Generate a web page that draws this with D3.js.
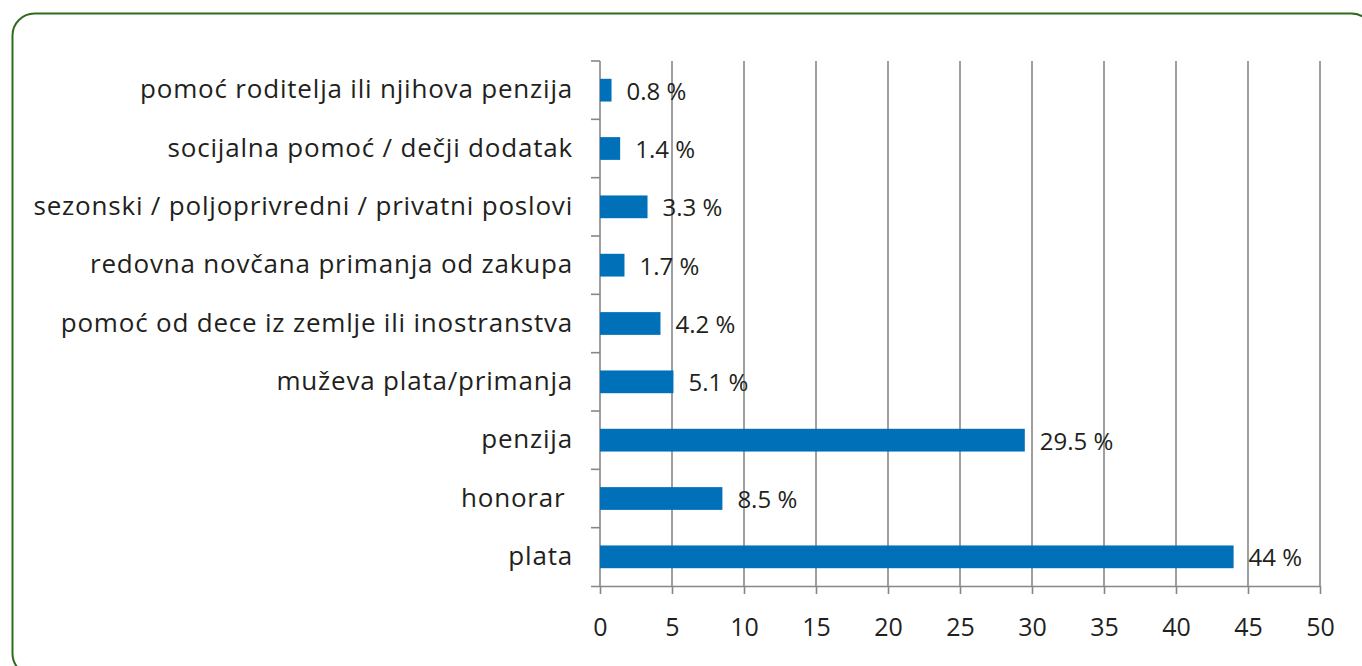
<!DOCTYPE html>
<html>
<head>
<meta charset="utf-8">
<script src="https://cdn.jsdelivr.net/npm/d3@7"></script>
<style>
  body { margin: 0; background: #fff; }
  text { font-family: "Open Sans", sans-serif; fill: #231f20; }
</style>
</head>
<body>
<script>
'use strict';

// categories from top to bottom
const categories = [
  "pomoć roditelja ili njihova penzija",
  "socijalna pomoć / dečji dodatak",
  "sezonski / poljoprivredni / privatni poslovi",
  "redovna novčana primanja od zakupa",
  "pomoć od dece iz zemlje ili inostranstva",
  "muževa plata/primanja",
  "penzija",
  "honorar ",
  "plata"
];
const values = [0.8, 1.4, 3.3, 1.7, 4.2, 5.1, 29.5, 8.5, 44];
const valueLabels = ["0.8 %", "1.4 %", "3.3 %", "1.7 %", "4.2 %", "5.1 %", "29.5 %", "8.5 %", "44 %"];
const xTicks = [0, 5, 10, 15, 20, 25, 30, 35, 40, 45, 50];

(function() {
  let svg = d3.select('body')
    .append('svg')
    .attr('width', 1362)
    .attr('height', 666);

  // green rounded frame
  svg.append('rect')
    .attr('x', 12.5)
    .attr('y', 13.5)
    .attr('width', 1361)
    .attr('height', 662)
    .attr('rx', 22)
    .attr('fill', 'none')
    .attr('stroke', '#2e6b1f')
    .attr('stroke-width', 2);

  const plotLeft = 600, plotRight = 1320, plotTop = 61, plotBottom = 586;
  const gridColor = '#878787';

  let x = d3.scaleLinear().domain([0, 50]).range([plotLeft, plotRight]);
  let y = d3.scaleBand().domain(categories).range([plotTop, plotBottom]).padding(0);

  // vertical gridlines
  svg.append('g')
    .selectAll('line')
    .data(xTicks.slice(1))
    .enter()
    .append('line')
    .attr('x1', d => x(d))
    .attr('x2', d => x(d))
    .attr('y1', plotTop)
    .attr('y2', plotBottom)
    .attr('stroke', gridColor)
    .attr('stroke-width', 1.6);

  // x axis
  let xAxis = svg.append('g')
    .attr('transform', `translate(0, ${plotBottom})`)
    .call(d3.axisBottom(x).tickValues(xTicks).tickSize(8).tickSizeOuter(0).tickPadding(24));
  xAxis.select('.domain').attr('stroke', gridColor).attr('stroke-width', 1.6)
    .attr('d', `M${plotLeft - 9},0.5H${plotRight}`);
  xAxis.selectAll('.tick line').attr('stroke', gridColor).attr('stroke-width', 1.6);
  xAxis.selectAll('.tick text')
    .style('font-size', '25px')
    .attr('fill', '#231f20');

  // y axis line and boundary ticks
  svg.append('line')
    .attr('x1', plotLeft).attr('x2', plotLeft)
    .attr('y1', plotTop).attr('y2', plotBottom)
    .attr('stroke', gridColor).attr('stroke-width', 1.6);

  svg.append('g')
    .selectAll('line')
    .data(categories)
    .enter()
    .append('line')
    .attr('x1', plotLeft - 9)
    .attr('x2', plotLeft)
    .attr('y1', d => y(d))
    .attr('y2', d => y(d))
    .attr('stroke', gridColor)
    .attr('stroke-width', 1.6);

  // category labels
  let yAxis = svg.append('g')
    .attr('transform', `translate(${plotLeft}, 0)`)
    .call(d3.axisLeft(y).tickSize(0).tickPadding(27));
  yAxis.select('.domain').remove();
  yAxis.selectAll('.tick text')
    .style('font-size', '26px')
    .style('letter-spacing', '0.8px')
    .style('white-space', 'pre')
    .attr('fill', '#231f20');

  // bars
  const barH = y.bandwidth() * 0.39;
  svg.append('g')
    .selectAll('rect')
    .data(values)
    .enter()
    .append('rect')
    .attr('x', x(0))
    .attr('y', (d, i) => y(categories[i]) + (y.bandwidth() - barH) / 2)
    .attr('width', d => x(d) - x(0))
    .attr('height', barH)
    .attr('fill', '#0070b9');

  // value labels
  svg.append('g')
    .selectAll('text')
    .data(values)
    .enter()
    .append('text')
    .attr('x', d => x(d) + 15)
    .attr('y', (d, i) => y(categories[i]) + y.bandwidth() / 2)
    .attr('dy', '0.4em')
    .style('font-size', '24px')
    .text((d, i) => valueLabels[i]);
})();
</script>
</body>
</html>
